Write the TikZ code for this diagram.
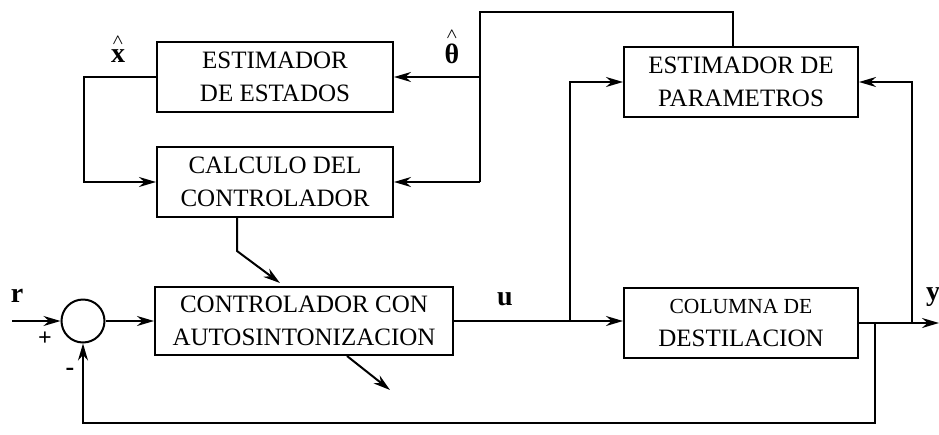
\documentclass[tikz,border=0pt]{standalone}
\usepackage{amsmath}
\usepackage{fontspec}
\setmainfont{Liberation Serif}
\usetikzlibrary{arrows.meta}
\tikzset{
    block-box/.style = {draw, line width=2pt, rectangle, align=center, inner sep=0pt, font=\fontsize{25}{33}\selectfont},
    sum-node/.style = {draw, circle, line width=2pt, minimum size=43pt, inner sep=0pt},
    signal/.style = {line width=2pt},
    signal-arrow/.style = {signal, -{Stealth[length=17pt,width=10pt]}},
    signal-label/.style = {inner sep=0pt, font=\bfseries\fontsize{28}{30}\selectfont},
}
\newcommand{\hatlabel}[1]{$\overset{\scriptscriptstyle\boldsymbol{\wedge}}{\text{\textbf{#1}}}$}

\begin{document}
\begin{tikzpicture}[x=1pt,y=-1pt]
\useasboundingbox (0,0) rectangle (939,434);
% blocks
\node[block-box, minimum width=236pt, minimum height=70pt] (est) at (275,77) {ESTIMADOR\\DE ESTADOS};
\node[block-box, minimum width=236pt, minimum height=70pt] (calc) at (275,182) {CALCULO DEL\\CONTROLADOR};
\node[block-box, minimum width=234pt, minimum height=70pt] (param) at (741,82) {ESTIMADOR DE\\PARAMETROS};
\node[block-box, minimum width=298pt, minimum height=68pt] (ctrl) at (304,321) {CONTROLADOR CON\\AUTOSINTONIZACION};
\node[block-box, minimum width=234pt, minimum height=70pt] (col) at (741,323) {{\fontsize{21.5}{33}\selectfont COLUMNA DE}\\DESTILACION};
\node[sum-node] (sum) at (83,321) {};

% junctions and free ends
\coordinate (xj) at (84,0);
\coordinate (thj) at (480,12);
\coordinate (uj) at (570,321);
\coordinate (yj) at (912,323);
\coordinate (fj) at (875,323);
\coordinate (fb) at (875,423);
\coordinate (rin) at (12,321);
\coordinate (yout) at (939,323);
\coordinate (tune) at (390,390);

% state estimate
\draw[signal-arrow] (est.west) -- (est.west -| xj) |- (calc.west);
% parameter estimate
\draw[signal] ([xshift=-8pt]param.north) |- (thj) -- (thj |- calc.east);
\draw[signal-arrow] (thj |- est.east) -- (est.east);
\draw[signal-arrow] (thj |- calc.east) -- (calc.east);
% controller design
\draw[signal-arrow] ([xshift=-38pt]calc.south) -- ++(0,33) -- ([xshift=-24pt,yshift=3pt]ctrl.north);
\draw[signal-arrow] ([xshift=43pt]ctrl.south) -- (tune);
% main loop
\draw[signal-arrow] (rin) -- (sum.west);
\draw[signal-arrow] (sum.east) -- (sum.east -| ctrl.west);
\draw[signal-arrow] (ctrl.east) -- (ctrl.east -| col.west);
\draw[signal-arrow] (uj) |- (param.west);
\draw[signal-arrow] (col.east) -- (yout);
\draw[signal-arrow] (yj) |- (param.east);
\draw[signal-arrow] (fj) -- (fb) -| (sum.south);

% labels
\node[signal-label] (r-label) at (17,296) {r};
\node[signal-label, font=\bfseries\fontsize{24}{24}\selectfont] (plus) at (45,339) {+};
\node[signal-label, font=\bfseries\fontsize{26}{26}\selectfont] (minus) at (70,372) {-};
\node[signal-label] (u-label) at (505,299) {u};
\node[signal-label] (y-label) at (933,297) {y};
\node[signal-label] (x-label) at (118,48) {\hatlabel{x}};
\node[signal-label] (th-label) at (452,46) {\hatlabel{θ}};
\end{tikzpicture}
\end{document}
